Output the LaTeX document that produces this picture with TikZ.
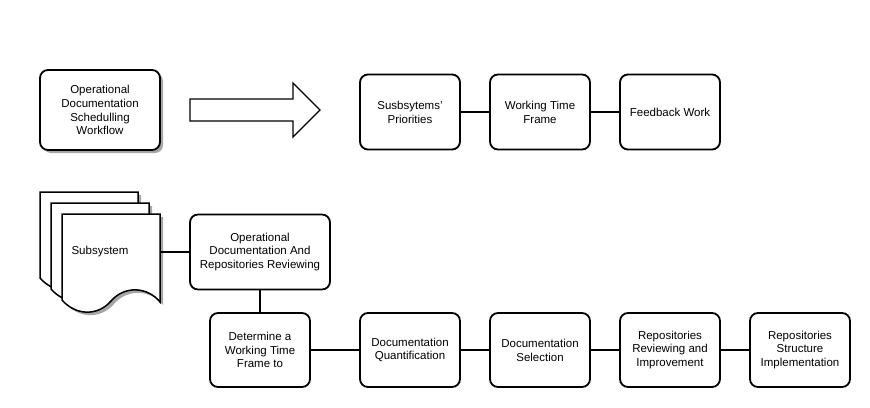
\documentclass[tikz,border=0pt]{standalone}
\usepackage{fontspec}
\setmainfont{Liberation Sans}
\usetikzlibrary{shadows}
\begin{document}
\begin{tikzpicture}[x=1pt,y=-1pt,
  every node/.style={font=\fontsize{11.5}{13.8}\selectfont},
  procbox/.style={draw, line width=1.8pt, rounded corners=8pt, fill=white,
    minimum width=100pt, minimum height=75pt, inner sep=0pt, align=center},
  shadowed/.style={drop shadow={shadow xshift=3pt, shadow yshift=-3pt, fill=black!35, opacity=1}},
  link/.style={line width=2pt},
  docshadow/.style={fill=black!35},
  docsheet/.style={draw, line width=1.5pt, fill=white}
]
\useasboundingbox (0,0) rectangle (870,407);

% top-left box
\node[procbox, shadowed, minimum width=120pt, minimum height=80pt] (wf) at (100,110)
  {Operational\\Documentation\\Schedulling\\Workflow};

% big arrow
\coordinate (arrtip) at (320,110);
\draw[line width=1.4pt, fill=white] (190,99) -- (293,99) -- (293,83) -- (arrtip) -- (293,137) -- (293,121) -- (190,121) -- cycle;

% top row
\node[procbox] (prio) at (410,112) {Susbsytems'\\Priorities};
\node[procbox] (wtf) at (540,112) {Working Time\\Frame};
\node[procbox] (fb) at (670,112) {Feedback Work};
\draw[link] (prio) -- (wtf);
\draw[link] (wtf) -- (fb);

% document stack
\def\docpath{ -- ++(98,0) -- ++(0,88) .. controls +(-12,-15) and +(14,-16) .. ++(-49,-1) .. controls +(-14,16) and +(13,15) .. ++(-49,-1) -- cycle}
\foreach \dx/\dy in {40/192, 51/203, 62/214}{
  \fill[docshadow] ({\dx+3},{\dy+3}) \docpath;
  \draw[docsheet] (\dx,\dy) \docpath;
}
\node[minimum width=98pt, minimum height=76pt, inner sep=0pt] (subsys) at (111,252) {};
\node at (100,252) {Subsystem};

% review box
\node[procbox, minimum width=140pt] (review) at (260,252)
  {Operational\\Documentation And\\Repositories Reviewing};
\draw[link] (review.west) -- (review.west -| subsys.east);

% bottom row
\node[procbox, minimum height=74pt] (det) at (260,350) {Determine a\\Working Time\\Frame to};
\node[procbox, minimum height=74pt] (quant) at (410,350) {Documentation\\Quantification};
\node[procbox, minimum height=74pt] (sel) at (540,350) {Documentation\\Selection};
\node[procbox, minimum height=74pt] (rrev) at (670,350) {Repositories\\Reviewing and\\Improvement};
\node[procbox, minimum height=74pt] (rstr) at (800,350) {Repositories\\Structure\\Implementation};

\draw[link] (review.south) -- (det.north);
\draw[link] (det) -- (quant);
\draw[link] (quant) -- (sel);
\draw[link] (sel) -- (rrev);
\draw[link] (rrev) -- (rstr);
\end{tikzpicture}
\end{document}
